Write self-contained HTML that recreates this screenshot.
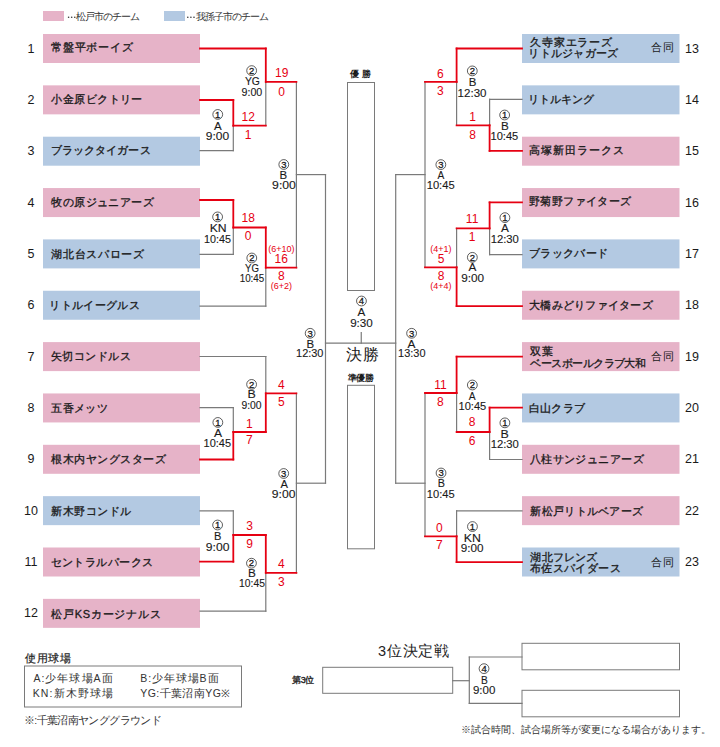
<!DOCTYPE html>
<html><head><meta charset="utf-8"><title>bracket</title>
<style>
html,body{margin:0;padding:0;background:#fff;}
body{width:720px;height:747px;overflow:hidden;font-family:'Liberation Sans', sans-serif;}
svg{display:block;}
text{font-family:'Liberation Sans', sans-serif;}
</style></head><body>
<svg width="720" height="747" viewBox="0 0 720 747">
<rect x="0" y="0" width="720" height="747" fill="#fff"/>
<rect x="43" y="34.0" width="157" height="29" fill="#e6b3c8"/>
<text x="51.26" y="47.12" font-size="11" fill="#1a1a1a" font-weight="normal" dominant-baseline="central" stroke="#1a1a1a" stroke-width="0.32" textLength="81.30" lengthAdjust="spacing">常盤平ボーイズ</text>
<text x="31" y="48.5" font-size="12.5" text-anchor="middle" fill="#1a1a1a" font-weight="normal" dominant-baseline="central" >1</text>
<rect x="43" y="85.35" width="157" height="29" fill="#e6b3c8"/>
<text x="51.26" y="98.78" font-size="11" fill="#1a1a1a" font-weight="normal" dominant-baseline="central" stroke="#1a1a1a" stroke-width="0.32" textLength="91.22" lengthAdjust="spacing">小金原ビクトリー</text>
<text x="31" y="99.85" font-size="12.5" text-anchor="middle" fill="#1a1a1a" font-weight="normal" dominant-baseline="central" >2</text>
<rect x="43" y="136.7" width="157" height="29" fill="#b3c9e2"/>
<text x="50.56" y="150.44" font-size="11" fill="#1a1a1a" font-weight="normal" dominant-baseline="central" stroke="#1a1a1a" stroke-width="0.32" textLength="99.96" lengthAdjust="spacing">ブラックタイガース</text>
<text x="31" y="151.2" font-size="12.5" text-anchor="middle" fill="#1a1a1a" font-weight="normal" dominant-baseline="central" >3</text>
<rect x="43" y="188.05" width="157" height="29" fill="#e6b3c8"/>
<text x="51.26" y="202.10" font-size="11" fill="#1a1a1a" font-weight="normal" dominant-baseline="central" stroke="#1a1a1a" stroke-width="0.32" textLength="102.45" lengthAdjust="spacing">牧の原ジュニアーズ</text>
<text x="31" y="202.55" font-size="12.5" text-anchor="middle" fill="#1a1a1a" font-weight="normal" dominant-baseline="central" >4</text>
<rect x="43" y="239.4" width="157" height="29" fill="#b3c9e2"/>
<text x="51.26" y="253.76" font-size="11" fill="#1a1a1a" font-weight="normal" dominant-baseline="central" stroke="#1a1a1a" stroke-width="0.32" textLength="92.82" lengthAdjust="spacing">湖北台スパローズ</text>
<text x="31" y="253.9" font-size="12.5" text-anchor="middle" fill="#1a1a1a" font-weight="normal" dominant-baseline="central" >5</text>
<rect x="43" y="290.75" width="157" height="29" fill="#b3c9e2"/>
<text x="49.16" y="304.72" font-size="11" fill="#1a1a1a" font-weight="normal" dominant-baseline="central" stroke="#1a1a1a" stroke-width="0.32" textLength="90.58" lengthAdjust="spacing">リトルイーグルス</text>
<text x="31" y="305.25" font-size="12.5" text-anchor="middle" fill="#1a1a1a" font-weight="normal" dominant-baseline="central" >6</text>
<rect x="43" y="342.1" width="157" height="29" fill="#e6b3c8"/>
<text x="50.56" y="356.38" font-size="11" fill="#1a1a1a" font-weight="normal" dominant-baseline="central" stroke="#1a1a1a" stroke-width="0.32" textLength="80.07" lengthAdjust="spacing">矢切コンドルス</text>
<text x="31" y="356.6" font-size="12.5" text-anchor="middle" fill="#1a1a1a" font-weight="normal" dominant-baseline="central" >7</text>
<rect x="43" y="393.45" width="157" height="29" fill="#e6b3c8"/>
<text x="51.26" y="408.04" font-size="11" fill="#1a1a1a" font-weight="normal" dominant-baseline="central" stroke="#1a1a1a" stroke-width="0.32" textLength="56.26" lengthAdjust="spacing">五香メッツ</text>
<text x="31" y="407.95" font-size="12.5" text-anchor="middle" fill="#1a1a1a" font-weight="normal" dominant-baseline="central" >8</text>
<rect x="43" y="444.8" width="157" height="29" fill="#e6b3c8"/>
<text x="51.26" y="459.00" font-size="11" fill="#1a1a1a" font-weight="normal" dominant-baseline="central" stroke="#1a1a1a" stroke-width="0.32" textLength="114.41" lengthAdjust="spacing">根木内ヤングスターズ</text>
<text x="31" y="459.3" font-size="12.5" text-anchor="middle" fill="#1a1a1a" font-weight="normal" dominant-baseline="central" >9</text>
<rect x="43" y="496.15000000000003" width="157" height="29" fill="#b3c9e2"/>
<text x="51.26" y="510.66" font-size="11" fill="#1a1a1a" font-weight="normal" dominant-baseline="central" stroke="#1a1a1a" stroke-width="0.32" textLength="80.04" lengthAdjust="spacing">新木野コンドル</text>
<text x="31" y="510.65000000000003" font-size="12.5" text-anchor="middle" fill="#1a1a1a" font-weight="normal" dominant-baseline="central" >10</text>
<rect x="43" y="547.5" width="157" height="29" fill="#e6b3c8"/>
<text x="50.56" y="561.62" font-size="11" fill="#1a1a1a" font-weight="normal" dominant-baseline="central" stroke="#1a1a1a" stroke-width="0.32" textLength="102.70" lengthAdjust="spacing">セントラルパークス</text>
<text x="31" y="562.0" font-size="12.5" text-anchor="middle" fill="#1a1a1a" font-weight="normal" dominant-baseline="central" >11</text>
<rect x="43" y="598.85" width="157" height="29" fill="#e6b3c8"/>
<text x="51.26" y="613.98" font-size="11" fill="#1a1a1a" font-weight="normal" dominant-baseline="central" stroke="#1a1a1a" stroke-width="0.32" textLength="109.37" lengthAdjust="spacing">松戸KSカージナルス</text>
<text x="31" y="613.35" font-size="12.5" text-anchor="middle" fill="#1a1a1a" font-weight="normal" dominant-baseline="central" >12</text>
<rect x="522" y="34.0" width="157.5" height="29" fill="#b3c9e2"/>
<text x="530.48" y="41.50" font-size="11" fill="#1a1a1a" font-weight="normal" dominant-baseline="central" stroke="#1a1a1a" stroke-width="0.32" textLength="81.08" lengthAdjust="spacing">久寺家エラーズ</text>
<text x="528.38" y="53.44" font-size="11" fill="#1a1a1a" font-weight="normal" dominant-baseline="central" stroke="#1a1a1a" stroke-width="0.32" textLength="89.81" lengthAdjust="spacing">リトルジャガーズ</text>
<text x="650.89" y="47.12" font-size="11" fill="#1a1a1a" font-weight="normal" dominant-baseline="central"  textLength="23.26" lengthAdjust="spacing">合同</text>
<text x="685" y="48.5" font-size="12.5" text-anchor="start" fill="#1a1a1a" font-weight="normal" dominant-baseline="central" >13</text>
<rect x="522" y="85.35" width="157.5" height="29" fill="#b3c9e2"/>
<text x="528.38" y="98.78" font-size="11" fill="#1a1a1a" font-weight="normal" dominant-baseline="central" stroke="#1a1a1a" stroke-width="0.32" textLength="66.07" lengthAdjust="spacing">リトルキング</text>
<text x="685" y="99.85" font-size="12.5" text-anchor="start" fill="#1a1a1a" font-weight="normal" dominant-baseline="central" >14</text>
<rect x="522" y="136.7" width="157.5" height="29" fill="#e6b3c8"/>
<text x="529.08" y="150.44" font-size="11" fill="#1a1a1a" font-weight="normal" dominant-baseline="central" stroke="#1a1a1a" stroke-width="0.32" textLength="95.03" lengthAdjust="spacing">高塚新田ラークス</text>
<text x="685" y="151.2" font-size="12.5" text-anchor="start" fill="#1a1a1a" font-weight="normal" dominant-baseline="central" >15</text>
<rect x="522" y="188.05" width="157.5" height="29" fill="#e6b3c8"/>
<text x="529.08" y="201.40" font-size="11" fill="#1a1a1a" font-weight="normal" dominant-baseline="central" stroke="#1a1a1a" stroke-width="0.32" textLength="102.11" lengthAdjust="spacing">野菊野ファイターズ</text>
<text x="685" y="202.55" font-size="12.5" text-anchor="start" fill="#1a1a1a" font-weight="normal" dominant-baseline="central" >16</text>
<rect x="522" y="239.4" width="157.5" height="29" fill="#b3c9e2"/>
<text x="529.08" y="253.06" font-size="11" fill="#1a1a1a" font-weight="normal" dominant-baseline="central" stroke="#1a1a1a" stroke-width="0.32" textLength="78.92" lengthAdjust="spacing">ブラックバード</text>
<text x="685" y="253.9" font-size="12.5" text-anchor="start" fill="#1a1a1a" font-weight="normal" dominant-baseline="central" >17</text>
<rect x="522" y="290.75" width="157.5" height="29" fill="#e6b3c8"/>
<text x="529.08" y="304.72" font-size="11" fill="#1a1a1a" font-weight="normal" dominant-baseline="central" stroke="#1a1a1a" stroke-width="0.32" textLength="123.59" lengthAdjust="spacing">大橋みどりファイターズ</text>
<text x="685" y="305.25" font-size="12.5" text-anchor="start" fill="#1a1a1a" font-weight="normal" dominant-baseline="central" >18</text>
<rect x="522" y="342.1" width="157.5" height="29" fill="#e6b3c8"/>
<text x="530.48" y="350.76" font-size="11" fill="#1a1a1a" font-weight="normal" dominant-baseline="central" stroke="#1a1a1a" stroke-width="0.32" textLength="22.82" lengthAdjust="spacing">双葉</text>
<text x="530.48" y="362.70" font-size="11" fill="#1a1a1a" font-weight="normal" dominant-baseline="central" stroke="#1a1a1a" stroke-width="0.32" textLength="115.41" lengthAdjust="spacing">ベースボールクラブ大和</text>
<text x="650.89" y="356.38" font-size="11" fill="#1a1a1a" font-weight="normal" dominant-baseline="central"  textLength="23.26" lengthAdjust="spacing">合同</text>
<text x="685" y="356.6" font-size="12.5" text-anchor="start" fill="#1a1a1a" font-weight="normal" dominant-baseline="central" >19</text>
<rect x="522" y="393.45" width="157.5" height="29" fill="#b3c9e2"/>
<text x="529.08" y="408.04" font-size="11" fill="#1a1a1a" font-weight="normal" dominant-baseline="central" stroke="#1a1a1a" stroke-width="0.32" textLength="55.63" lengthAdjust="spacing">白山クラブ</text>
<text x="685" y="407.95" font-size="12.5" text-anchor="start" fill="#1a1a1a" font-weight="normal" dominant-baseline="central" >20</text>
<rect x="522" y="444.8" width="157.5" height="29" fill="#e6b3c8"/>
<text x="529.78" y="459.00" font-size="11" fill="#1a1a1a" font-weight="normal" dominant-baseline="central" stroke="#1a1a1a" stroke-width="0.32" textLength="113.78" lengthAdjust="spacing">八柱サンジュニアーズ</text>
<text x="685" y="459.3" font-size="12.5" text-anchor="start" fill="#1a1a1a" font-weight="normal" dominant-baseline="central" >21</text>
<rect x="522" y="496.15000000000003" width="157.5" height="29" fill="#e6b3c8"/>
<text x="530.48" y="510.66" font-size="11" fill="#1a1a1a" font-weight="normal" dominant-baseline="central" stroke="#1a1a1a" stroke-width="0.32" textLength="112.45" lengthAdjust="spacing">新松戸リトルベアーズ</text>
<text x="685" y="510.65000000000003" font-size="12.5" text-anchor="start" fill="#1a1a1a" font-weight="normal" dominant-baseline="central" >22</text>
<rect x="522" y="547.5" width="157.5" height="29" fill="#b3c9e2"/>
<text x="530.48" y="556.70" font-size="11" fill="#1a1a1a" font-weight="normal" dominant-baseline="central" stroke="#1a1a1a" stroke-width="0.32" textLength="66.86" lengthAdjust="spacing">湖北フレンズ</text>
<text x="529.78" y="567.94" font-size="11" fill="#1a1a1a" font-weight="normal" dominant-baseline="central" stroke="#1a1a1a" stroke-width="0.32" textLength="90.74" lengthAdjust="spacing">布佐スパイダース</text>
<text x="650.89" y="561.62" font-size="11" fill="#1a1a1a" font-weight="normal" dominant-baseline="central"  textLength="23.26" lengthAdjust="spacing">合同</text>
<text x="685" y="562.0" font-size="12.5" text-anchor="start" fill="#1a1a1a" font-weight="normal" dominant-baseline="central" >23</text>
<line x1="200" y1="150.6" x2="233.3" y2="150.6" stroke="#7a7a7a" stroke-width="1.2" stroke-linecap="square"/>
<line x1="233.3" y1="125.7" x2="233.3" y2="150.6" stroke="#7a7a7a" stroke-width="1.2" stroke-linecap="square"/>
<line x1="265.8" y1="81.9" x2="265.8" y2="125.7" stroke="#7a7a7a" stroke-width="1.2" stroke-linecap="square"/>
<line x1="200" y1="254.3" x2="233.3" y2="254.3" stroke="#7a7a7a" stroke-width="1.2" stroke-linecap="square"/>
<line x1="233.3" y1="227.5" x2="233.3" y2="254.3" stroke="#7a7a7a" stroke-width="1.2" stroke-linecap="square"/>
<line x1="200" y1="306.1" x2="265.8" y2="306.1" stroke="#7a7a7a" stroke-width="1.2" stroke-linecap="square"/>
<line x1="265.8" y1="267.6" x2="265.8" y2="306.1" stroke="#7a7a7a" stroke-width="1.2" stroke-linecap="square"/>
<line x1="296.4" y1="81.9" x2="296.4" y2="267.6" stroke="#7a7a7a" stroke-width="1.2" stroke-linecap="square"/>
<line x1="296.4" y1="174.6" x2="325.5" y2="174.6" stroke="#7a7a7a" stroke-width="1.2" stroke-linecap="square"/>
<line x1="200" y1="356.5" x2="265.8" y2="356.5" stroke="#7a7a7a" stroke-width="1.2" stroke-linecap="square"/>
<line x1="265.8" y1="356.5" x2="265.8" y2="393.4" stroke="#7a7a7a" stroke-width="1.2" stroke-linecap="square"/>
<line x1="200" y1="407.6" x2="233.3" y2="407.6" stroke="#7a7a7a" stroke-width="1.2" stroke-linecap="square"/>
<line x1="233.3" y1="407.6" x2="233.3" y2="432" stroke="#7a7a7a" stroke-width="1.2" stroke-linecap="square"/>
<line x1="200" y1="510.8" x2="233.3" y2="510.8" stroke="#7a7a7a" stroke-width="1.2" stroke-linecap="square"/>
<line x1="233.3" y1="510.8" x2="233.3" y2="535" stroke="#7a7a7a" stroke-width="1.2" stroke-linecap="square"/>
<line x1="200" y1="611.1" x2="265.8" y2="611.1" stroke="#7a7a7a" stroke-width="1.2" stroke-linecap="square"/>
<line x1="265.8" y1="572.8" x2="265.8" y2="611.1" stroke="#7a7a7a" stroke-width="1.2" stroke-linecap="square"/>
<line x1="296.4" y1="393.4" x2="296.4" y2="572.8" stroke="#7a7a7a" stroke-width="1.2" stroke-linecap="square"/>
<line x1="296.4" y1="483.2" x2="325.5" y2="483.2" stroke="#7a7a7a" stroke-width="1.2" stroke-linecap="square"/>
<line x1="325.5" y1="174.6" x2="325.5" y2="483.2" stroke="#7a7a7a" stroke-width="1.2" stroke-linecap="square"/>
<line x1="522" y1="99.4" x2="489.6" y2="99.4" stroke="#7a7a7a" stroke-width="1.2" stroke-linecap="square"/>
<line x1="489.6" y1="99.4" x2="489.6" y2="125.3" stroke="#7a7a7a" stroke-width="1.2" stroke-linecap="square"/>
<line x1="456.6" y1="81.9" x2="456.6" y2="125.3" stroke="#7a7a7a" stroke-width="1.2" stroke-linecap="square"/>
<line x1="522" y1="254.7" x2="489.6" y2="254.7" stroke="#7a7a7a" stroke-width="1.2" stroke-linecap="square"/>
<line x1="489.6" y1="228.4" x2="489.6" y2="254.7" stroke="#7a7a7a" stroke-width="1.2" stroke-linecap="square"/>
<line x1="456.6" y1="228.4" x2="456.6" y2="267.3" stroke="#7a7a7a" stroke-width="1.2" stroke-linecap="square"/>
<line x1="425.0" y1="81.9" x2="425.0" y2="267.3" stroke="#7a7a7a" stroke-width="1.2" stroke-linecap="square"/>
<line x1="425.0" y1="174.6" x2="395.7" y2="174.6" stroke="#7a7a7a" stroke-width="1.2" stroke-linecap="square"/>
<line x1="456.6" y1="393" x2="456.6" y2="432" stroke="#7a7a7a" stroke-width="1.2" stroke-linecap="square"/>
<line x1="522" y1="459.5" x2="489.6" y2="459.5" stroke="#7a7a7a" stroke-width="1.2" stroke-linecap="square"/>
<line x1="489.6" y1="432" x2="489.6" y2="459.5" stroke="#7a7a7a" stroke-width="1.2" stroke-linecap="square"/>
<line x1="522" y1="510.8" x2="456.6" y2="510.8" stroke="#7a7a7a" stroke-width="1.2" stroke-linecap="square"/>
<line x1="456.6" y1="510.8" x2="456.6" y2="536.3" stroke="#7a7a7a" stroke-width="1.2" stroke-linecap="square"/>
<line x1="425.0" y1="393" x2="425.0" y2="536.3" stroke="#7a7a7a" stroke-width="1.2" stroke-linecap="square"/>
<line x1="425.0" y1="483.2" x2="395.7" y2="483.2" stroke="#7a7a7a" stroke-width="1.2" stroke-linecap="square"/>
<line x1="395.7" y1="174.6" x2="395.7" y2="483.2" stroke="#7a7a7a" stroke-width="1.2" stroke-linecap="square"/>
<line x1="200" y1="100" x2="233.3" y2="100" stroke="#e60012" stroke-width="1.8" stroke-linecap="square"/>
<line x1="233.3" y1="100" x2="233.3" y2="125.7" stroke="#e60012" stroke-width="1.8" stroke-linecap="square"/>
<line x1="233.3" y1="125.7" x2="265.8" y2="125.7" stroke="#e60012" stroke-width="1.8" stroke-linecap="square"/>
<line x1="200" y1="48.5" x2="265.8" y2="48.5" stroke="#e60012" stroke-width="1.8" stroke-linecap="square"/>
<line x1="265.8" y1="48.5" x2="265.8" y2="81.9" stroke="#e60012" stroke-width="1.8" stroke-linecap="square"/>
<line x1="265.8" y1="81.9" x2="296.4" y2="81.9" stroke="#e60012" stroke-width="1.8" stroke-linecap="square"/>
<line x1="200" y1="200" x2="233.3" y2="200" stroke="#e60012" stroke-width="1.8" stroke-linecap="square"/>
<line x1="233.3" y1="200" x2="233.3" y2="227.5" stroke="#e60012" stroke-width="1.8" stroke-linecap="square"/>
<line x1="233.3" y1="227.5" x2="265.8" y2="227.5" stroke="#e60012" stroke-width="1.8" stroke-linecap="square"/>
<line x1="265.8" y1="227.5" x2="265.8" y2="267.6" stroke="#e60012" stroke-width="1.8" stroke-linecap="square"/>
<line x1="265.8" y1="267.6" x2="296.4" y2="267.6" stroke="#e60012" stroke-width="1.8" stroke-linecap="square"/>
<line x1="265.8" y1="393.4" x2="265.8" y2="432" stroke="#e60012" stroke-width="1.8" stroke-linecap="square"/>
<line x1="265.8" y1="393.4" x2="296.4" y2="393.4" stroke="#e60012" stroke-width="1.8" stroke-linecap="square"/>
<line x1="200" y1="459.5" x2="233.3" y2="459.5" stroke="#e60012" stroke-width="1.8" stroke-linecap="square"/>
<line x1="233.3" y1="432" x2="233.3" y2="459.5" stroke="#e60012" stroke-width="1.8" stroke-linecap="square"/>
<line x1="233.3" y1="432" x2="265.8" y2="432" stroke="#e60012" stroke-width="1.8" stroke-linecap="square"/>
<line x1="200" y1="561.7" x2="233.3" y2="561.7" stroke="#e60012" stroke-width="1.8" stroke-linecap="square"/>
<line x1="233.3" y1="535" x2="233.3" y2="561.7" stroke="#e60012" stroke-width="1.8" stroke-linecap="square"/>
<line x1="233.3" y1="535" x2="265.8" y2="535" stroke="#e60012" stroke-width="1.8" stroke-linecap="square"/>
<line x1="265.8" y1="535" x2="265.8" y2="572.8" stroke="#e60012" stroke-width="1.8" stroke-linecap="square"/>
<line x1="265.8" y1="572.8" x2="296.4" y2="572.8" stroke="#e60012" stroke-width="1.8" stroke-linecap="square"/>
<line x1="522" y1="150.9" x2="489.6" y2="150.9" stroke="#e60012" stroke-width="1.8" stroke-linecap="square"/>
<line x1="489.6" y1="125.3" x2="489.6" y2="150.9" stroke="#e60012" stroke-width="1.8" stroke-linecap="square"/>
<line x1="489.6" y1="125.3" x2="456.6" y2="125.3" stroke="#e60012" stroke-width="1.8" stroke-linecap="square"/>
<line x1="522" y1="48.5" x2="456.6" y2="48.5" stroke="#e60012" stroke-width="1.8" stroke-linecap="square"/>
<line x1="456.6" y1="48.5" x2="456.6" y2="81.9" stroke="#e60012" stroke-width="1.8" stroke-linecap="square"/>
<line x1="456.6" y1="81.9" x2="425.0" y2="81.9" stroke="#e60012" stroke-width="1.8" stroke-linecap="square"/>
<line x1="522" y1="202.4" x2="489.6" y2="202.4" stroke="#e60012" stroke-width="1.8" stroke-linecap="square"/>
<line x1="489.6" y1="202.4" x2="489.6" y2="228.4" stroke="#e60012" stroke-width="1.8" stroke-linecap="square"/>
<line x1="489.6" y1="228.4" x2="456.6" y2="228.4" stroke="#e60012" stroke-width="1.8" stroke-linecap="square"/>
<line x1="522" y1="306.1" x2="456.6" y2="306.1" stroke="#e60012" stroke-width="1.8" stroke-linecap="square"/>
<line x1="456.6" y1="267.3" x2="456.6" y2="306.1" stroke="#e60012" stroke-width="1.8" stroke-linecap="square"/>
<line x1="456.6" y1="267.3" x2="425.0" y2="267.3" stroke="#e60012" stroke-width="1.8" stroke-linecap="square"/>
<line x1="522" y1="356.7" x2="456.6" y2="356.7" stroke="#e60012" stroke-width="1.8" stroke-linecap="square"/>
<line x1="456.6" y1="356.7" x2="456.6" y2="393" stroke="#e60012" stroke-width="1.8" stroke-linecap="square"/>
<line x1="456.6" y1="393" x2="425.0" y2="393" stroke="#e60012" stroke-width="1.8" stroke-linecap="square"/>
<line x1="522" y1="407.6" x2="489.6" y2="407.6" stroke="#e60012" stroke-width="1.8" stroke-linecap="square"/>
<line x1="489.6" y1="407.6" x2="489.6" y2="432" stroke="#e60012" stroke-width="1.8" stroke-linecap="square"/>
<line x1="489.6" y1="432" x2="456.6" y2="432" stroke="#e60012" stroke-width="1.8" stroke-linecap="square"/>
<line x1="522" y1="562.1" x2="456.6" y2="562.1" stroke="#e60012" stroke-width="1.8" stroke-linecap="square"/>
<line x1="456.6" y1="536.3" x2="456.6" y2="562.1" stroke="#e60012" stroke-width="1.8" stroke-linecap="square"/>
<line x1="456.6" y1="536.3" x2="425.0" y2="536.3" stroke="#e60012" stroke-width="1.8" stroke-linecap="square"/>
<line x1="325.5" y1="343.1" x2="395.7" y2="343.1" stroke="#7a7a7a" stroke-width="1.2" stroke-linecap="square"/>
<line x1="361.25" y1="332.5" x2="361.25" y2="343.1" stroke="#7a7a7a" stroke-width="1.2" stroke-linecap="square"/>
<rect x="347.5" y="82.5" width="27" height="208" fill="none" stroke="#7a7a7a" stroke-width="1.0"/>
<rect x="347.5" y="385.3" width="27" height="163.5" fill="none" stroke="#7a7a7a" stroke-width="1.0"/>
<text x="350.00" y="74.00" font-size="9" fill="#1a1a1a" font-weight="bold" dominant-baseline="central"  textLength="21.38" lengthAdjust="spacing">優勝</text>
<text x="347.51" y="378.30" font-size="9" fill="#1a1a1a" font-weight="bold" dominant-baseline="central"  textLength="26.77" lengthAdjust="spacing">準優勝</text>
<text x="346.46" y="354.90" font-size="16" fill="#1a1a1a" font-weight="normal" dominant-baseline="central"  textLength="32.04" lengthAdjust="spacing">決勝</text>
<circle cx="217.75" cy="114.45" r="4.9" fill="none" stroke="#1a1a1a" stroke-width="0.7"/>
<text x="217.75" y="114.15" font-size="9.5" text-anchor="middle" fill="#1a1a1a" font-weight="normal" dominant-baseline="central" stroke="#1a1a1a" stroke-width="0.3">1</text>
<text x="217.80" y="125.63" font-size="11" fill="#1a1a1a" text-anchor="middle" dominant-baseline="central" stroke="#1a1a1a" stroke-width="0.12" textLength="7.70" lengthAdjust="spacingAndGlyphs">A</text>
<text x="217.55" y="136.23" font-size="11" fill="#1a1a1a" text-anchor="middle" dominant-baseline="central" stroke="#1a1a1a" stroke-width="0.12" textLength="23.40" lengthAdjust="spacingAndGlyphs">9:00</text>
<circle cx="251.65" cy="70.6" r="4.9" fill="none" stroke="#1a1a1a" stroke-width="0.7"/>
<text x="251.65" y="70.3" font-size="9.5" text-anchor="middle" fill="#1a1a1a" font-weight="normal" dominant-baseline="central" stroke="#1a1a1a" stroke-width="0.3">2</text>
<text x="252.45" y="81.27" font-size="11" fill="#1a1a1a" text-anchor="middle" dominant-baseline="central" stroke="#1a1a1a" stroke-width="0.12" textLength="15.00" lengthAdjust="spacingAndGlyphs">YG</text>
<text x="251.90" y="92.38" font-size="11" fill="#1a1a1a" text-anchor="middle" dominant-baseline="central" stroke="#1a1a1a" stroke-width="0.12" textLength="20.80" lengthAdjust="spacingAndGlyphs">9:00</text>
<circle cx="217.6" cy="216.9" r="4.9" fill="none" stroke="#1a1a1a" stroke-width="0.7"/>
<text x="217.6" y="216.6" font-size="9.5" text-anchor="middle" fill="#1a1a1a" font-weight="normal" dominant-baseline="central" stroke="#1a1a1a" stroke-width="0.3">1</text>
<text x="218.12" y="227.77" font-size="11" fill="#1a1a1a" text-anchor="middle" dominant-baseline="central" stroke="#1a1a1a" stroke-width="0.12" textLength="16.95" lengthAdjust="spacingAndGlyphs">KN</text>
<text x="217.57" y="238.55" font-size="11" fill="#1a1a1a" text-anchor="middle" dominant-baseline="central" stroke="#1a1a1a" stroke-width="0.12" textLength="26.95" lengthAdjust="spacingAndGlyphs">10:45</text>
<circle cx="251.8" cy="258.0" r="4.9" fill="none" stroke="#1a1a1a" stroke-width="0.7"/>
<text x="251.8" y="257.7" font-size="9.5" text-anchor="middle" fill="#1a1a1a" font-weight="normal" dominant-baseline="central" stroke="#1a1a1a" stroke-width="0.3">2</text>
<text x="251.93" y="268.22" font-size="11" fill="#1a1a1a" text-anchor="middle" dominant-baseline="central" stroke="#1a1a1a" stroke-width="0.12" textLength="13.95" lengthAdjust="spacingAndGlyphs">YG</text>
<text x="251.98" y="278.23" font-size="11" fill="#1a1a1a" text-anchor="middle" dominant-baseline="central" stroke="#1a1a1a" stroke-width="0.12" textLength="24.55" lengthAdjust="spacingAndGlyphs">10:45</text>
<circle cx="283.8" cy="164.5" r="4.9" fill="none" stroke="#1a1a1a" stroke-width="0.7"/>
<text x="283.8" y="164.2" font-size="9.5" text-anchor="middle" fill="#1a1a1a" font-weight="normal" dominant-baseline="central" stroke="#1a1a1a" stroke-width="0.3">3</text>
<text x="283.42" y="175.43" font-size="11" fill="#1a1a1a" text-anchor="middle" dominant-baseline="central" stroke="#1a1a1a" stroke-width="0.12" textLength="7.65" lengthAdjust="spacingAndGlyphs">B</text>
<text x="284.00" y="185.25" font-size="11" fill="#1a1a1a" text-anchor="middle" dominant-baseline="central" stroke="#1a1a1a" stroke-width="0.12" textLength="23.80" lengthAdjust="spacingAndGlyphs">9:00</text>
<circle cx="251.6" cy="384.4" r="4.9" fill="none" stroke="#1a1a1a" stroke-width="0.7"/>
<text x="251.6" y="384.09999999999997" font-size="9.5" text-anchor="middle" fill="#1a1a1a" font-weight="normal" dominant-baseline="central" stroke="#1a1a1a" stroke-width="0.3">2</text>
<text x="251.75" y="394.07" font-size="11" fill="#1a1a1a" text-anchor="middle" dominant-baseline="central" stroke="#1a1a1a" stroke-width="0.12" textLength="8.30" lengthAdjust="spacingAndGlyphs">B</text>
<text x="251.57" y="405.03" font-size="11" fill="#1a1a1a" text-anchor="middle" dominant-baseline="central" stroke="#1a1a1a" stroke-width="0.12" textLength="20.15" lengthAdjust="spacingAndGlyphs">9:00</text>
<circle cx="217.85" cy="422.45" r="4.9" fill="none" stroke="#1a1a1a" stroke-width="0.7"/>
<text x="217.85" y="422.15" font-size="9.5" text-anchor="middle" fill="#1a1a1a" font-weight="normal" dominant-baseline="central" stroke="#1a1a1a" stroke-width="0.3">1</text>
<text x="218.05" y="433.03" font-size="11" fill="#1a1a1a" text-anchor="middle" dominant-baseline="central" stroke="#1a1a1a" stroke-width="0.12" textLength="8.10" lengthAdjust="spacingAndGlyphs">A</text>
<text x="217.33" y="443.38" font-size="11" fill="#1a1a1a" text-anchor="middle" dominant-baseline="central" stroke="#1a1a1a" stroke-width="0.12" textLength="27.45" lengthAdjust="spacingAndGlyphs">10:45</text>
<circle cx="217.6" cy="525.0" r="4.9" fill="none" stroke="#1a1a1a" stroke-width="0.7"/>
<text x="217.6" y="524.7" font-size="9.5" text-anchor="middle" fill="#1a1a1a" font-weight="normal" dominant-baseline="central" stroke="#1a1a1a" stroke-width="0.3">1</text>
<text x="217.60" y="536.35" font-size="11" fill="#1a1a1a" text-anchor="middle" dominant-baseline="central" stroke="#1a1a1a" stroke-width="0.12" textLength="7.40" lengthAdjust="spacingAndGlyphs">B</text>
<text x="217.68" y="546.75" font-size="11" fill="#1a1a1a" text-anchor="middle" dominant-baseline="central" stroke="#1a1a1a" stroke-width="0.12" textLength="23.65" lengthAdjust="spacingAndGlyphs">9:00</text>
<circle cx="251.45" cy="563.2" r="4.9" fill="none" stroke="#1a1a1a" stroke-width="0.7"/>
<text x="251.45" y="562.9000000000001" font-size="9.5" text-anchor="middle" fill="#1a1a1a" font-weight="normal" dominant-baseline="central" stroke="#1a1a1a" stroke-width="0.3">2</text>
<text x="251.98" y="573.35" font-size="11" fill="#1a1a1a" text-anchor="middle" dominant-baseline="central" stroke="#1a1a1a" stroke-width="0.12" textLength="7.85" lengthAdjust="spacingAndGlyphs">B</text>
<text x="251.98" y="583.45" font-size="11" fill="#1a1a1a" text-anchor="middle" dominant-baseline="central" stroke="#1a1a1a" stroke-width="0.12" textLength="25.85" lengthAdjust="spacingAndGlyphs">10:45</text>
<circle cx="283.7" cy="473.5" r="4.9" fill="none" stroke="#1a1a1a" stroke-width="0.7"/>
<text x="283.7" y="473.2" font-size="9.5" text-anchor="middle" fill="#1a1a1a" font-weight="normal" dominant-baseline="central" stroke="#1a1a1a" stroke-width="0.3">3</text>
<text x="284.13" y="483.97" font-size="11" fill="#1a1a1a" text-anchor="middle" dominant-baseline="central" stroke="#1a1a1a" stroke-width="0.12" textLength="7.45" lengthAdjust="spacingAndGlyphs">A</text>
<text x="283.68" y="494.25" font-size="11" fill="#1a1a1a" text-anchor="middle" dominant-baseline="central" stroke="#1a1a1a" stroke-width="0.12" textLength="23.65" lengthAdjust="spacingAndGlyphs">9:00</text>
<circle cx="310.15" cy="333.3" r="4.9" fill="none" stroke="#1a1a1a" stroke-width="0.7"/>
<text x="310.15" y="333.0" font-size="9.5" text-anchor="middle" fill="#1a1a1a" font-weight="normal" dominant-baseline="central" stroke="#1a1a1a" stroke-width="0.3">3</text>
<text x="310.32" y="343.50" font-size="11" fill="#1a1a1a" text-anchor="middle" dominant-baseline="central" stroke="#1a1a1a" stroke-width="0.12" textLength="7.65" lengthAdjust="spacingAndGlyphs">B</text>
<text x="309.75" y="353.45" font-size="11" fill="#1a1a1a" text-anchor="middle" dominant-baseline="central" stroke="#1a1a1a" stroke-width="0.12" textLength="27.40" lengthAdjust="spacingAndGlyphs">12:30</text>
<circle cx="361.45" cy="301.0" r="4.9" fill="none" stroke="#1a1a1a" stroke-width="0.7"/>
<text x="361.45" y="300.7" font-size="9.5" text-anchor="middle" fill="#1a1a1a" font-weight="normal" dominant-baseline="central" stroke="#1a1a1a" stroke-width="0.3">4</text>
<text x="361.50" y="311.78" font-size="11" fill="#1a1a1a" text-anchor="middle" dominant-baseline="central" stroke="#1a1a1a" stroke-width="0.12" textLength="7.80" lengthAdjust="spacingAndGlyphs">A</text>
<text x="361.50" y="322.55" font-size="11" fill="#1a1a1a" text-anchor="middle" dominant-baseline="central" stroke="#1a1a1a" stroke-width="0.12" textLength="22.70" lengthAdjust="spacingAndGlyphs">9:30</text>
<circle cx="411.6" cy="333.3" r="4.9" fill="none" stroke="#1a1a1a" stroke-width="0.7"/>
<text x="411.6" y="333.0" font-size="9.5" text-anchor="middle" fill="#1a1a1a" font-weight="normal" dominant-baseline="central" stroke="#1a1a1a" stroke-width="0.3">3</text>
<text x="411.50" y="343.50" font-size="11" fill="#1a1a1a" text-anchor="middle" dominant-baseline="central" stroke="#1a1a1a" stroke-width="0.12" textLength="7.90" lengthAdjust="spacingAndGlyphs">A</text>
<text x="411.80" y="353.45" font-size="11" fill="#1a1a1a" text-anchor="middle" dominant-baseline="central" stroke="#1a1a1a" stroke-width="0.12" textLength="27.40" lengthAdjust="spacingAndGlyphs">13:30</text>
<circle cx="472.3" cy="70.9" r="4.9" fill="none" stroke="#1a1a1a" stroke-width="0.7"/>
<text x="472.3" y="70.60000000000001" font-size="9.5" text-anchor="middle" fill="#1a1a1a" font-weight="normal" dominant-baseline="central" stroke="#1a1a1a" stroke-width="0.3">2</text>
<text x="472.53" y="82.35" font-size="11" fill="#1a1a1a" text-anchor="middle" dominant-baseline="central" stroke="#1a1a1a" stroke-width="0.12" textLength="7.65" lengthAdjust="spacingAndGlyphs">B</text>
<text x="472.05" y="92.55" font-size="11" fill="#1a1a1a" text-anchor="middle" dominant-baseline="central" stroke="#1a1a1a" stroke-width="0.12" textLength="28.90" lengthAdjust="spacingAndGlyphs">12:30</text>
<circle cx="504.65" cy="115.0" r="4.9" fill="none" stroke="#1a1a1a" stroke-width="0.7"/>
<text x="504.65" y="114.7" font-size="9.5" text-anchor="middle" fill="#1a1a1a" font-weight="normal" dominant-baseline="central" stroke="#1a1a1a" stroke-width="0.3">1</text>
<text x="504.80" y="125.83" font-size="11" fill="#1a1a1a" text-anchor="middle" dominant-baseline="central" stroke="#1a1a1a" stroke-width="0.12" textLength="7.80" lengthAdjust="spacingAndGlyphs">B</text>
<text x="504.38" y="136.10" font-size="11" fill="#1a1a1a" text-anchor="middle" dominant-baseline="central" stroke="#1a1a1a" stroke-width="0.12" textLength="27.75" lengthAdjust="spacingAndGlyphs">10:45</text>
<circle cx="440.85" cy="164.6" r="4.9" fill="none" stroke="#1a1a1a" stroke-width="0.7"/>
<text x="440.85" y="164.29999999999998" font-size="9.5" text-anchor="middle" fill="#1a1a1a" font-weight="normal" dominant-baseline="central" stroke="#1a1a1a" stroke-width="0.3">3</text>
<text x="441.00" y="175.47" font-size="11" fill="#1a1a1a" text-anchor="middle" dominant-baseline="central" stroke="#1a1a1a" stroke-width="0.12" textLength="6.80" lengthAdjust="spacingAndGlyphs">A</text>
<text x="440.68" y="185.45" font-size="11" fill="#1a1a1a" text-anchor="middle" dominant-baseline="central" stroke="#1a1a1a" stroke-width="0.12" textLength="27.95" lengthAdjust="spacingAndGlyphs">10:45</text>
<circle cx="504.9" cy="217.65" r="4.9" fill="none" stroke="#1a1a1a" stroke-width="0.7"/>
<text x="504.9" y="217.35" font-size="9.5" text-anchor="middle" fill="#1a1a1a" font-weight="normal" dominant-baseline="central" stroke="#1a1a1a" stroke-width="0.3">1</text>
<text x="504.95" y="228.43" font-size="11" fill="#1a1a1a" text-anchor="middle" dominant-baseline="central" stroke="#1a1a1a" stroke-width="0.12" textLength="7.90" lengthAdjust="spacingAndGlyphs">A</text>
<text x="504.80" y="238.70" font-size="11" fill="#1a1a1a" text-anchor="middle" dominant-baseline="central" stroke="#1a1a1a" stroke-width="0.12" textLength="28.20" lengthAdjust="spacingAndGlyphs">12:30</text>
<circle cx="472.35" cy="257.35" r="4.9" fill="none" stroke="#1a1a1a" stroke-width="0.7"/>
<text x="472.35" y="257.05" font-size="9.5" text-anchor="middle" fill="#1a1a1a" font-weight="normal" dominant-baseline="central" stroke="#1a1a1a" stroke-width="0.3">2</text>
<text x="472.32" y="267.47" font-size="11" fill="#1a1a1a" text-anchor="middle" dominant-baseline="central" stroke="#1a1a1a" stroke-width="0.12" textLength="7.85" lengthAdjust="spacingAndGlyphs">A</text>
<text x="472.62" y="278.35" font-size="11" fill="#1a1a1a" text-anchor="middle" dominant-baseline="central" stroke="#1a1a1a" stroke-width="0.12" textLength="22.95" lengthAdjust="spacingAndGlyphs">9:00</text>
<circle cx="472.35" cy="385.0" r="4.9" fill="none" stroke="#1a1a1a" stroke-width="0.7"/>
<text x="472.35" y="384.7" font-size="9.5" text-anchor="middle" fill="#1a1a1a" font-weight="normal" dominant-baseline="central" stroke="#1a1a1a" stroke-width="0.3">2</text>
<text x="472.18" y="395.78" font-size="11" fill="#1a1a1a" text-anchor="middle" dominant-baseline="central" stroke="#1a1a1a" stroke-width="0.12" textLength="6.85" lengthAdjust="spacingAndGlyphs">A</text>
<text x="472.40" y="406.43" font-size="11" fill="#1a1a1a" text-anchor="middle" dominant-baseline="central" stroke="#1a1a1a" stroke-width="0.12" textLength="27.80" lengthAdjust="spacingAndGlyphs">10:45</text>
<circle cx="504.9" cy="422.85" r="4.9" fill="none" stroke="#1a1a1a" stroke-width="0.7"/>
<text x="504.9" y="422.55" font-size="9.5" text-anchor="middle" fill="#1a1a1a" font-weight="normal" dominant-baseline="central" stroke="#1a1a1a" stroke-width="0.3">1</text>
<text x="504.60" y="433.50" font-size="11" fill="#1a1a1a" text-anchor="middle" dominant-baseline="central" stroke="#1a1a1a" stroke-width="0.12" textLength="8.30" lengthAdjust="spacingAndGlyphs">B</text>
<text x="504.80" y="443.57" font-size="11" fill="#1a1a1a" text-anchor="middle" dominant-baseline="central" stroke="#1a1a1a" stroke-width="0.12" textLength="28.20" lengthAdjust="spacingAndGlyphs">12:30</text>
<circle cx="441.05" cy="473.0" r="4.9" fill="none" stroke="#1a1a1a" stroke-width="0.7"/>
<text x="441.05" y="472.7" font-size="9.5" text-anchor="middle" fill="#1a1a1a" font-weight="normal" dominant-baseline="central" stroke="#1a1a1a" stroke-width="0.3">3</text>
<text x="441.30" y="483.22" font-size="11" fill="#1a1a1a" text-anchor="middle" dominant-baseline="central" stroke="#1a1a1a" stroke-width="0.12" textLength="7.20" lengthAdjust="spacingAndGlyphs">B</text>
<text x="440.75" y="493.90" font-size="11" fill="#1a1a1a" text-anchor="middle" dominant-baseline="central" stroke="#1a1a1a" stroke-width="0.12" textLength="27.80" lengthAdjust="spacingAndGlyphs">10:45</text>
<circle cx="472.45" cy="526.55" r="4.9" fill="none" stroke="#1a1a1a" stroke-width="0.7"/>
<text x="472.45" y="526.25" font-size="9.5" text-anchor="middle" fill="#1a1a1a" font-weight="normal" dominant-baseline="central" stroke="#1a1a1a" stroke-width="0.3">1</text>
<text x="472.40" y="537.75" font-size="11" fill="#1a1a1a" text-anchor="middle" dominant-baseline="central" stroke="#1a1a1a" stroke-width="0.12" textLength="17.10" lengthAdjust="spacingAndGlyphs">KN</text>
<text x="472.05" y="547.90" font-size="11" fill="#1a1a1a" text-anchor="middle" dominant-baseline="central" stroke="#1a1a1a" stroke-width="0.12" textLength="22.80" lengthAdjust="spacingAndGlyphs">9:00</text>
<circle cx="484.05" cy="668.65" r="4.9" fill="none" stroke="#1a1a1a" stroke-width="0.7"/>
<text x="484.05" y="668.35" font-size="9.5" text-anchor="middle" fill="#1a1a1a" font-weight="normal" dominant-baseline="central" stroke="#1a1a1a" stroke-width="0.3">4</text>
<text x="484.30" y="679.68" font-size="11" fill="#1a1a1a" text-anchor="middle" dominant-baseline="central" stroke="#1a1a1a" stroke-width="0.12" textLength="6.80" lengthAdjust="spacingAndGlyphs">B</text>
<text x="484.12" y="690.25" font-size="11" fill="#1a1a1a" text-anchor="middle" dominant-baseline="central" stroke="#1a1a1a" stroke-width="0.12" textLength="22.45" lengthAdjust="spacingAndGlyphs">9:00</text>
<text x="281.7" y="73.2" font-size="12" text-anchor="middle" fill="#e60012" font-weight="normal" dominant-baseline="central" >19</text>
<text x="281.7" y="91.8" font-size="12" text-anchor="middle" fill="#e60012" font-weight="normal" dominant-baseline="central" >0</text>
<text x="248.2" y="116.5" font-size="12" text-anchor="middle" fill="#e60012" font-weight="normal" dominant-baseline="central" >12</text>
<text x="248.2" y="134.6" font-size="12" text-anchor="middle" fill="#e60012" font-weight="normal" dominant-baseline="central" >1</text>
<text x="248.2" y="217.7" font-size="12" text-anchor="middle" fill="#e60012" font-weight="normal" dominant-baseline="central" >18</text>
<text x="248.2" y="236.2" font-size="12" text-anchor="middle" fill="#e60012" font-weight="normal" dominant-baseline="central" >0</text>
<text x="281.3" y="248.5" font-size="9" text-anchor="middle" fill="#e60012" font-weight="normal" dominant-baseline="central" >(6+10)</text>
<text x="281.3" y="258.8" font-size="12" text-anchor="middle" fill="#e60012" font-weight="normal" dominant-baseline="central" >16</text>
<text x="281.3" y="276.3" font-size="12" text-anchor="middle" fill="#e60012" font-weight="normal" dominant-baseline="central" >8</text>
<text x="281.3" y="286.4" font-size="9" text-anchor="middle" fill="#e60012" font-weight="normal" dominant-baseline="central" >(6+2)</text>
<text x="281.3" y="384.7" font-size="12" text-anchor="middle" fill="#e60012" font-weight="normal" dominant-baseline="central" >4</text>
<text x="281.3" y="402.4" font-size="12" text-anchor="middle" fill="#e60012" font-weight="normal" dominant-baseline="central" >5</text>
<text x="249.3" y="423.5" font-size="12" text-anchor="middle" fill="#e60012" font-weight="normal" dominant-baseline="central" >1</text>
<text x="249.3" y="440.4" font-size="12" text-anchor="middle" fill="#e60012" font-weight="normal" dominant-baseline="central" >7</text>
<text x="249.6" y="526" font-size="12" text-anchor="middle" fill="#e60012" font-weight="normal" dominant-baseline="central" >3</text>
<text x="249.6" y="543.5" font-size="12" text-anchor="middle" fill="#e60012" font-weight="normal" dominant-baseline="central" >9</text>
<text x="281.3" y="564" font-size="12" text-anchor="middle" fill="#e60012" font-weight="normal" dominant-baseline="central" >4</text>
<text x="281.3" y="581.5" font-size="12" text-anchor="middle" fill="#e60012" font-weight="normal" dominant-baseline="central" >3</text>
<text x="440.4" y="73.7" font-size="12" text-anchor="middle" fill="#e60012" font-weight="normal" dominant-baseline="central" >6</text>
<text x="440.4" y="91.2" font-size="12" text-anchor="middle" fill="#e60012" font-weight="normal" dominant-baseline="central" >3</text>
<text x="472.5" y="116.5" font-size="12" text-anchor="middle" fill="#e60012" font-weight="normal" dominant-baseline="central" >1</text>
<text x="472.5" y="134.6" font-size="12" text-anchor="middle" fill="#e60012" font-weight="normal" dominant-baseline="central" >8</text>
<text x="472.1" y="219.3" font-size="12" text-anchor="middle" fill="#e60012" font-weight="normal" dominant-baseline="central" >11</text>
<text x="472.1" y="237.4" font-size="12" text-anchor="middle" fill="#e60012" font-weight="normal" dominant-baseline="central" >1</text>
<text x="441" y="248.5" font-size="9" text-anchor="middle" fill="#e60012" font-weight="normal" dominant-baseline="central" >(4+1)</text>
<text x="441" y="258.8" font-size="12" text-anchor="middle" fill="#e60012" font-weight="normal" dominant-baseline="central" >5</text>
<text x="441" y="276.3" font-size="12" text-anchor="middle" fill="#e60012" font-weight="normal" dominant-baseline="central" >8</text>
<text x="441" y="286.4" font-size="9" text-anchor="middle" fill="#e60012" font-weight="normal" dominant-baseline="central" >(4+4)</text>
<text x="440.4" y="384.7" font-size="12" text-anchor="middle" fill="#e60012" font-weight="normal" dominant-baseline="central" >11</text>
<text x="440.4" y="402.4" font-size="12" text-anchor="middle" fill="#e60012" font-weight="normal" dominant-baseline="central" >8</text>
<text x="472.1" y="422.2" font-size="12" text-anchor="middle" fill="#e60012" font-weight="normal" dominant-baseline="central" >8</text>
<text x="472.1" y="441" font-size="12" text-anchor="middle" fill="#e60012" font-weight="normal" dominant-baseline="central" >6</text>
<text x="439.4" y="527.9" font-size="12" text-anchor="middle" fill="#e60012" font-weight="normal" dominant-baseline="central" >0</text>
<text x="439.4" y="545.4" font-size="12" text-anchor="middle" fill="#e60012" font-weight="normal" dominant-baseline="central" >7</text>
<rect x="43" y="11" width="21" height="10" fill="#e6b3c8"/>
<circle cx="68.6" cy="17.2" r="0.8" fill="#333"/>
<circle cx="71.7" cy="17.2" r="0.8" fill="#333"/>
<circle cx="74.8" cy="17.2" r="0.8" fill="#333"/>
<text x="76.48" y="16.40" font-size="9.5" fill="#333" font-weight="normal" dominant-baseline="central"  textLength="63.52" lengthAdjust="spacing">松戸市のチーム</text>
<rect x="164" y="11" width="21" height="10" fill="#b3c9e2"/>
<circle cx="187.8" cy="17.2" r="0.8" fill="#333"/>
<circle cx="190.9" cy="17.2" r="0.8" fill="#333"/>
<circle cx="194.0" cy="17.2" r="0.8" fill="#333"/>
<text x="195.55" y="16.40" font-size="9.5" fill="#333" font-weight="normal" dominant-baseline="central"  textLength="73.88" lengthAdjust="spacing">我孫子市のチーム</text>
<text x="25.00" y="657.50" font-size="10.5" fill="#222" font-weight="normal" dominant-baseline="central" stroke="#222" stroke-width="0.2" textLength="46.00" lengthAdjust="spacing">使用球場</text>
<rect x="24.5" y="666" width="217" height="41" fill="none" stroke="#7a7a7a" stroke-width="1.0"/>
<text x="33.40" y="678.30" font-size="10.5" fill="#333" font-weight="normal" dominant-baseline="central"  textLength="79.20" lengthAdjust="spacing">A:少年球場A面</text>
<text x="32.70" y="693.30" font-size="10.5" fill="#333" font-weight="normal" dominant-baseline="central"  textLength="80.30" lengthAdjust="spacing">KN:新木野球場</text>
<text x="140.30" y="678.30" font-size="10.5" fill="#333" font-weight="normal" dominant-baseline="central"  textLength="78.20" lengthAdjust="spacing">B:少年球場B面</text>
<text x="140.30" y="693.30" font-size="10.5" fill="#333" font-weight="normal" dominant-baseline="central"  textLength="89.96" lengthAdjust="spacing">YG:千葉沼南YG※</text>
<text x="24.00" y="719.50" font-size="10.5" fill="#333" font-weight="normal" dominant-baseline="central"  textLength="137.70" lengthAdjust="spacing">※:千葉沼南ヤンググラウンド</text>
<text x="378.02" y="651.20" font-size="14.5" fill="#222" font-weight="normal" dominant-baseline="central"  textLength="71.28" lengthAdjust="spacing">3位決定戦</text>
<text x="291.84" y="680.20" font-size="9" fill="#222" font-weight="normal" dominant-baseline="central" stroke="#222" stroke-width="0.35" textLength="22.60" lengthAdjust="spacing">第3位</text>
<rect x="322.7" y="667.3" width="130" height="26" fill="none" stroke="#7a7a7a" stroke-width="1.0"/>
<line x1="452.7" y1="680.7" x2="469.3" y2="680.7" stroke="#7a7a7a" stroke-width="1.2" stroke-linecap="square"/>
<line x1="469.3" y1="657" x2="469.3" y2="703.3" stroke="#7a7a7a" stroke-width="1.2" stroke-linecap="square"/>
<line x1="469.3" y1="657" x2="522" y2="657" stroke="#7a7a7a" stroke-width="1.2" stroke-linecap="square"/>
<line x1="469.3" y1="703.3" x2="522" y2="703.3" stroke="#7a7a7a" stroke-width="1.2" stroke-linecap="square"/>
<rect x="522" y="643.3" width="157.5" height="26.5" fill="none" stroke="#7a7a7a" stroke-width="1.0"/>
<rect x="522" y="690.3" width="157.5" height="26.5" fill="none" stroke="#7a7a7a" stroke-width="1.0"/>
<text x="460.90" y="729.50" font-size="9.5" fill="#333" font-weight="normal" dominant-baseline="central"  textLength="250.40" lengthAdjust="spacing">※試合時間、試合場所等が変更になる場合があります。</text>
</svg>
</body></html>
